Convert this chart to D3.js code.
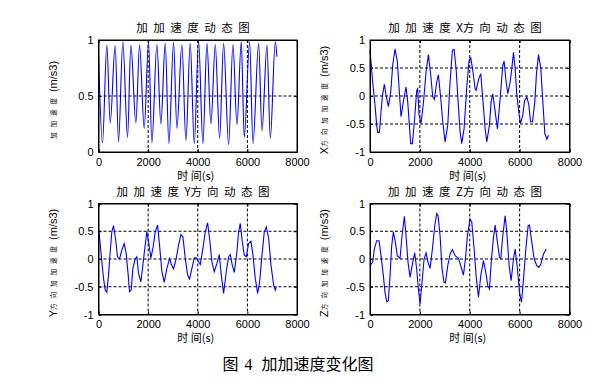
<!DOCTYPE html>
<html><head><meta charset="utf-8">
<script src="https://cdn.jsdelivr.net/npm/d3@7"></script>
<style>
html,body{margin:0;padding:0;background:#fff;}
svg{display:block;}
text{font-family:"Liberation Sans",Arial,sans-serif;fill:#000;}
.cjk{font-family:"Noto Sans CJK SC","Liberation Sans",sans-serif;}
</style></head>
<body>
<svg id="c" width="609" height="392"></svg>
<script>
// ---- data ----
const xTicks = [0, 2000, 4000, 6000, 8000];
const yTicksMag = [0, 0.5, 1];
const yTicksDir = [-1, -0.5, 0, 0.5, 1];

const magT = [0,161,336,471,672,807,981,1170,1304,1506,1654,1842,2017,2151,2353,2514,2689,2837,3025,3160,3361,3523,3697,3859,4034,4208,4370,4531,4706,4881,5042,5244,5418,5580,5754,5875,6091,6225,6454,6588,6790,6924,7126,7193];
const magV = [0.87,0.08,0.955,0.26,0.95,0.09,0.985,0.13,0.955,0.26,0.955,0.21,0.985,0.08,0.96,0.25,0.97,0.075,0.98,0.21,0.96,0.10,0.97,0.075,0.99,0.075,0.97,0.25,0.96,0.12,0.97,0.066,0.96,0.245,0.985,0.13,0.985,0.075,0.97,0.19,0.955,0.12,0.985,0.85];

const xT = [0,107,201,268,308,375,442,495,575,642,736,830,910,1004,1097,1177,1244,1338,1445,1512,1579,1632,1699,1780,1873,1913,1967,2047,2141,2248,2342,2435,2515,2582,2676,2743,2837,2917,3011,3118,3211,3305,3372,3452,3546,3613,3680,3773,3880,3974,4041,4121,4215,4255,4362,4442,4522,4616,4683,4790,4857,4924,5018,5111,5218,5325,5379,5459,5526,5620,5687,5753,5820,5887,5981,6034,6128,6195,6289,6369,6436,6516,6609,6676,6757,6850,6930,7011,7091,7158];
const xV = [0.82,0.25,-0.16,-0.52,-0.65,-0.65,-0.28,-0.01,0.21,0.015,-0.19,0.07,0.55,0.84,0.61,0.07,-0.37,-0.1,0.16,-0.1,-0.52,-0.85,-0.85,-0.46,0.1,0.13,-0.34,-0.49,-0.13,0.43,0.74,0.37,-0.01,-0.06,0.25,0.38,-0.045,-0.46,-0.82,-0.52,0.25,0.82,0.83,0.49,-0.19,-0.64,-0.85,-0.58,0.16,0.64,0.68,0.46,0.13,0.1,0.31,0.4,-0.045,-0.58,-0.82,-0.52,-0.1,0.04,-0.28,-0.59,-0.045,0.55,0.62,0.25,0.04,0.25,0.49,0.78,0.49,0.015,-0.34,-0.49,-0.34,-0.09,-0.015,-0.16,-0.46,-0.46,-0.1,0.4,0.74,0.49,-0.1,-0.67,-0.77,-0.7];

const yT = [0,40,134,202,269,336,403,471,538,605,686,766,847,941,1035,1116,1197,1250,1318,1385,1479,1546,1613,1708,1788,1882,1950,2017,2111,2192,2286,2380,2460,2555,2649,2756,2864,2945,3025,3133,3227,3321,3402,3496,3590,3670,3765,3859,3939,4034,4101,4208,4302,4397,4477,4571,4665,4773,4867,4948,5042,5149,5244,5311,5391,5472,5580,5647,5714,5795,5875,5956,6050,6144,6225,6319,6413,6494,6588,6682,6763,6857,6951,7059,7126,7166];
const yV = [0.55,0.4,-0.05,-0.35,-0.56,-0.6,-0.29,0.13,0.49,0.6,0.37,0.04,0.0,0.16,0.28,0.1,-0.29,-0.59,-0.56,-0.17,0.0,0.04,-0.26,-0.41,-0.11,0.25,0.5,0.31,0.02,0.19,0.49,0.61,0.25,-0.23,-0.42,-0.17,0.01,-0.11,-0.18,0.01,0.25,0.44,0.4,0.01,-0.29,-0.36,-0.17,0.02,0.02,-0.05,-0.1,0.19,0.49,0.65,0.37,-0.05,-0.23,-0.08,0.08,-0.29,-0.62,-0.23,0.04,0.08,-0.11,-0.24,0.13,0.49,0.64,0.31,0.07,0.04,0.28,0.32,0.07,-0.35,-0.62,-0.41,0.07,0.49,0.58,0.37,-0.11,-0.47,-0.56,-0.5];

const zT = [0,107,174,268,361,442,535,602,669,736,803,870,937,1017,1097,1204,1284,1378,1445,1525,1606,1713,1793,1873,1940,2007,2087,2168,2248,2328,2408,2502,2596,2676,2730,2810,2890,2970,3024,3118,3211,3305,3412,3546,3639,3746,3827,3907,4014,4081,4175,4255,4349,4442,4549,4643,4723,4790,4870,4951,5018,5111,5191,5245,5325,5419,5486,5579,5660,5753,5820,5914,5994,6075,6155,6248,6342,6396,6489,6583,6690,6770,6851,6958,7065];
const zV = [-0.12,-0.06,0.18,0.33,0.33,0.06,-0.3,-0.6,-0.77,-0.75,-0.3,0.24,0.49,0.3,0.06,0.01,0.42,0.77,0.42,-0.06,-0.33,-0.06,0.11,-0.18,-0.54,-0.81,-0.42,0.0,0.11,-0.06,-0.17,0.18,0.6,0.82,0.78,0.42,-0.18,-0.42,-0.43,-0.12,0.09,0.17,0.06,0.01,-0.12,-0.29,0.0,0.42,0.72,0.67,0.18,-0.3,-0.69,-0.3,-0.03,-0.24,-0.48,-0.54,0.0,0.39,0.61,0.3,0.03,0.01,0.42,0.78,0.48,-0.12,-0.39,0.0,0.18,-0.18,-0.6,-0.78,-0.36,0.18,0.6,0.61,0.3,0.0,-0.12,-0.15,-0.09,0.09,0.18];

const titles = [["加加速度","","动态图"],["加加速度","X方","向动态图"],["加加速度","Y方","向动态图"],["加加速度","Z方","向动态图"]];
const yLabelPrefix = ["", "X", "Y", "Z"];
const yLabelCjk = ["加加速度", "方向加加速度", "方向加加速度", "方向加加速度"];
const yUnit = "(m/s3)";
const xLabel = "时 间(s)";
const caption = ["图", "4", "加加速度变化图"];

// ---- layout ----
const svg = d3.select("#c");
const cols = [[98.5, 297], [370, 569.5]];
const rows = [[40, 152], [203.5, 314.5]];
const panels = [
  {c:0, r:0, t:magT, v:magV, dom:[0,1], ticks:yTicksMag, curve:d3.curveMonotoneX},
  {c:1, r:0, t:xT, v:xV, dom:[-1,1], ticks:yTicksDir, curve:d3.curveLinear},
  {c:0, r:1, t:yT, v:yV, dom:[-1,1], ticks:yTicksDir, curve:d3.curveLinear},
  {c:1, r:1, t:zT, v:zV, dom:[-1,1], ticks:yTicksDir, curve:d3.curveLinear}
];

panels.forEach((p, i) => {
  const [x0, x1] = cols[p.c], [y0, y1] = rows[p.r];
  const x = d3.scaleLinear().domain([0, 8000]).range([x0, x1]);
  const y = d3.scaleLinear().domain(p.dom).range([y1, y0]);
  const g = svg.append("g");

  // grid (dashed) at inner ticks
  g.selectAll(".gx").data(xTicks.slice(1, -1)).enter().append("line")
    .attr("x1", d => x(d)).attr("x2", d => x(d)).attr("y1", y0).attr("y2", y1)
    .attr("stroke", "#000").attr("stroke-width", 1).attr("stroke-dasharray", "3,2");
  g.selectAll(".gy").data(p.ticks.slice(1, -1)).enter().append("line")
    .attr("x1", x0).attr("x2", x1).attr("y1", d => y(d)).attr("y2", d => y(d))
    .attr("stroke", "#000").attr("stroke-width", 1).attr("stroke-dasharray", "3,2");

  // data line
  const pts = p.t.map((t, k) => [t, p.v[k]]);
  g.append("path").datum(pts)
    .attr("d", d3.line().x(d => x(d[0])).y(d => y(d[1])).curve(p.curve))
    .attr("fill", "none").attr("stroke", "#0000ff").attr("stroke-width", 1.1);

  // axes with inward ticks
  const ax = d3.axisBottom(x).tickValues(xTicks).tickSize(-3).tickPadding(4).tickFormat(d3.format("d"));
  const gxA = g.append("g").attr("transform", `translate(0,${y1})`).call(ax);
  const ay = d3.axisLeft(y).tickValues(p.ticks).tickSize(-3).tickPadding(5).tickFormat(d => String(d));
  const gyA = g.append("g").attr("transform", `translate(${x0},0)`).call(ay);
  g.append("g").attr("transform", `translate(0,${y0})`).call(d3.axisTop(x).tickValues(xTicks).tickSize(-3).tickFormat(""));
  g.append("g").attr("transform", `translate(${x1},0)`).call(d3.axisRight(y).tickValues(p.ticks).tickSize(-3).tickFormat(""));
  g.selectAll(".domain").attr("stroke", "#000");
  g.selectAll(".tick line").attr("stroke", "#000");
  [gxA, gyA].forEach(a => a.selectAll("text").attr("font-size", 11).attr("font-family", "Liberation Sans, Arial, sans-serif").attr("fill", "#000"));
  gxA.selectAll("text").attr("dy", null).attr("y", 13.5).attr("dominant-baseline", "alphabetic");
  // frame
  g.append("rect").attr("x", x0).attr("y", y0).attr("width", x1 - x0).attr("height", y1 - y0)
    .attr("fill", "none").attr("stroke", "#000").attr("stroke-width", 1);

  // title
  const tt = g.append("text").attr("class", "cjk").attr("x", (x0 + x1) / 2 - 2).attr("y", y0 - 8)
    .attr("text-anchor", "middle").attr("font-size", 11.5);
  tt.append("tspan").attr("letter-spacing", 5.5).text(titles[i][0]);
  if (titles[i][1]) tt.append("tspan").attr("letter-spacing", 0).text(titles[i][1]);
  tt.append("tspan").attr("letter-spacing", 5.5).attr("dx", titles[i][1] ? 5 : 0).text(titles[i][2]);

  // x label
  g.append("text").attr("class", "cjk").attr("x", (x0 + x1) / 2 - 2).attr("y", y1 + 27.5)
    .attr("text-anchor", "middle").attr("font-size", 11).text(xLabel);

  // y label (rotated)
  const cx = x0 - 46, cy = (y0 + y1) / 2 + 4;
  const yl = g.append("text").attr("transform", `translate(${cx},${cy}) rotate(-90)`)
    .attr("text-anchor", "middle").attr("dominant-baseline", "central");
  if (yLabelPrefix[i]) yl.append("tspan").attr("font-size", 11).text(yLabelPrefix[i]);
  yl.append("tspan").attr("class", "cjk").attr("font-size", 6.5).attr("letter-spacing", 5).text(yLabelCjk[i]);
  yl.append("tspan").attr("font-size", 11).attr("dx", 1).text(yUnit);
});

// caption
const cap = svg.append("text").attr("x", 298).attr("y", 370).attr("text-anchor", "middle")
  .attr("font-size", 16).attr("class", "cjk");
cap.append("tspan").text(caption[0]);
cap.append("tspan").attr("dx", 6).attr("font-family", "Liberation Serif, serif").text(caption[1]);
cap.append("tspan").attr("dx", 9).text(caption[2]);
</script>
</body></html>
